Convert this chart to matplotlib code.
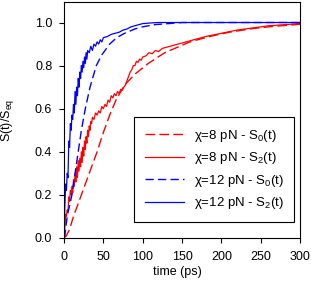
import matplotlib
matplotlib.use('Agg')
import matplotlib.pyplot as plt

plt.rcParams['font.family'] = ['Liberation Sans', 'DejaVu Sans']
plt.rcParams['mathtext.fontset'] = 'custom'
plt.rcParams['mathtext.rm'] = 'Liberation Sans'
plt.rcParams['mathtext.it'] = 'Liberation Sans:italic'

# chi = 8 pN, S0(t) (smooth)
t_r0 = [0, 3, 7, 12, 17, 22, 27, 32, 37, 42, 50, 58, 66, 77, 90, 107, 128, 160, 185, 210, 240, 260, 300]
s_r0 = [0, 0.01, 0.04, 0.1, 0.15, 0.2, 0.25, 0.3, 0.35, 0.4, 0.49, 0.57, 0.64, 0.71, 0.76, 0.81, 0.86, 0.91, 0.935, 0.955, 0.972, 0.98, 0.992]

# chi = 8 pN, S2(t) (noisy)
t_r2 = [0, 1, 2, 3, 4, 5, 6, 7, 8, 9, 10, 11, 12, 13, 14, 15, 16, 17, 18, 19, 20,
        21, 22, 23, 24, 25, 26, 27, 28, 29, 30, 31, 32, 33, 34, 35, 36, 38, 40, 42,
        44, 46, 48, 50, 52, 54, 56, 58, 60, 62, 64, 66, 68, 70, 72, 74, 76, 78, 80,
        82, 84, 86, 88, 90, 92, 94, 96, 98, 100, 104, 108, 112, 116, 120, 125, 130,
        140, 150, 160, 180, 200, 220, 240, 260, 280, 300]
s_r2 = [0, 0.05, 0.11, 0.10, 0.13, 0.12, 0.19, 0.17, 0.22, 0.20, 0.24, 0.21, 0.27, 0.24, 0.30, 0.26, 0.33, 0.28, 0.36, 0.31, 0.37,
        0.33, 0.40, 0.35, 0.42, 0.38, 0.45, 0.41, 0.47, 0.44, 0.50, 0.47, 0.52, 0.50, 0.54, 0.53, 0.56, 0.55, 0.58, 0.57,
        0.59, 0.58, 0.61, 0.60, 0.62, 0.61, 0.64, 0.63, 0.66, 0.65, 0.67, 0.66, 0.68, 0.67, 0.69, 0.685, 0.70, 0.71, 0.73,
        0.75, 0.77, 0.78, 0.80, 0.80, 0.82, 0.815, 0.83, 0.825, 0.84, 0.845, 0.86, 0.855, 0.87, 0.865, 0.88, 0.885,
        0.895, 0.905, 0.915, 0.935, 0.95, 0.965, 0.975, 0.985, 0.99, 0.995]

# chi = 12 pN, S0(t) (smooth)
t_b0 = [0, 1, 4, 10, 14, 18, 22, 27, 33, 41, 48, 58, 67, 77, 90, 100, 115, 150, 200, 300]
s_b0 = [0, 0.01, 0.1, 0.2, 0.3, 0.4, 0.5, 0.6, 0.7, 0.8, 0.85, 0.9, 0.93, 0.95, 0.97, 0.98, 0.99, 1.0, 1.0, 1.0]

# chi = 12 pN, S2(t) (noisy)
t_b2 = [0, 1, 2, 3, 4, 5, 6, 7, 8, 9, 10, 11, 12, 13, 14, 15, 16, 17, 18, 19, 20,
        21, 22, 23, 24, 25, 26, 27, 28, 29, 30, 32, 34, 36, 38, 40, 42, 44, 46, 48,
        50, 55, 60, 65, 70, 75, 80, 85, 90, 95, 100, 110, 120, 150, 200, 250, 300]
s_b2 = [0, 0.15, 0.25, 0.22, 0.30, 0.28, 0.45, 0.42, 0.53, 0.50, 0.57, 0.55, 0.62, 0.58, 0.68, 0.62, 0.70, 0.66, 0.74, 0.70, 0.77,
        0.74, 0.80, 0.77, 0.82, 0.79, 0.84, 0.81, 0.86, 0.83, 0.87, 0.86, 0.89, 0.87, 0.90, 0.89, 0.91, 0.90, 0.92, 0.91,
        0.93, 0.935, 0.945, 0.95, 0.955, 0.965, 0.97, 0.98, 0.985, 0.99, 0.995, 0.998, 1.0, 1.0, 1.0, 1.0, 1.0]

labels = [u'\u03c7=8 pN - S$_\\mathregular{0}$(t)',
          u'\u03c7=8 pN - S$_\\mathregular{2}$(t)',
          u'\u03c7=12 pN - S$_\\mathregular{0}$(t)',
          u'\u03c7=12 pN - S$_\\mathregular{2}$(t)']

fig = plt.figure(figsize=(3.11, 2.93), dpi=100)
ax = fig.add_axes([0.206, 0.188, 0.759, 0.805])

ax.plot(t_r0, s_r0, color='red', lw=1, dashes=(7, 3), label=labels[0])
ax.plot(t_r2, s_r2, color='red', lw=0.9, label=labels[1])
ax.plot(t_b0, s_b0, color='blue', lw=1, dashes=(6, 3), label=labels[2])
ax.plot(t_b2, s_b2, color='blue', lw=0.9, label=labels[3])

ax.set_xlim(0, 300)
ax.set_ylim(0, 1.095)
ax.set_xticks([0, 50, 100, 150, 200, 250, 300])
ax.set_yticks([0.0, 0.2, 0.4, 0.6, 0.8, 1.0])
ax.set_yticklabels(['0.0', '0.2', '0.4', '0.6', '0.8', '1.0'])
ax.tick_params(direction='out', length=3.5, width=0.8, labelsize=9)
ax.tick_params(axis='x', pad=6)
ax.tick_params(axis='y', pad=5)
for s in ax.spines.values():
    s.set_linewidth(0.8)

ax.set_xlabel('time (ps)', fontsize=9)
ax.set_ylabel('S(t)/S$_\\mathregular{eq}$', fontsize=9)
ax.xaxis.set_label_coords(0.48, -0.12)
ax.yaxis.set_label_coords(-0.205, 0.5)

leg = ax.legend(loc='lower right', bbox_to_anchor=(0.975, 0.068), borderaxespad=0,
                fancybox=False, edgecolor='black', framealpha=1, fontsize=9.5,
                handlelength=3.0, handletextpad=0.7, labelspacing=0.5,
                borderpad=0.8)
leg.get_frame().set_linewidth(0.8)

fig.savefig('out.png', dpi=100)
